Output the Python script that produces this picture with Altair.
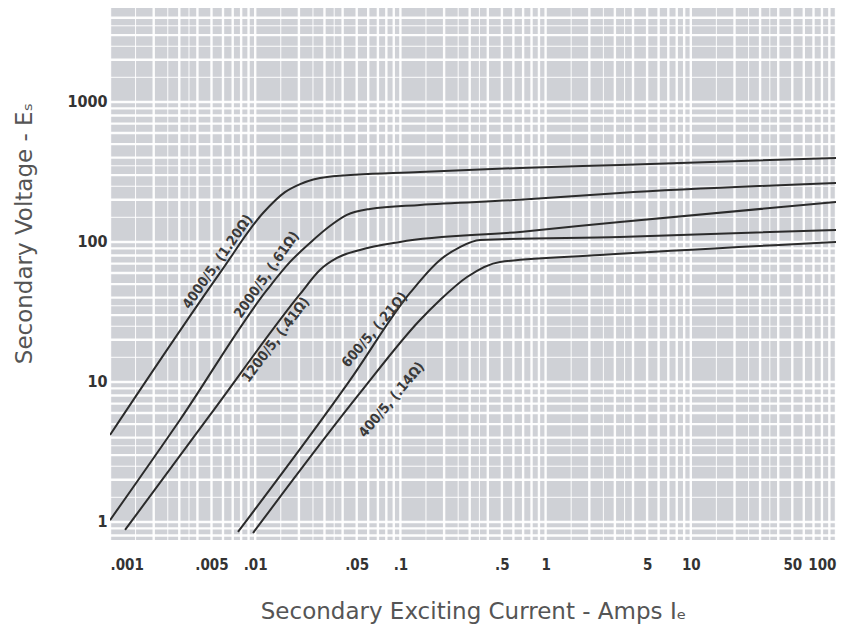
import altair as alt
import pandas as pd

# ---- data ----
curve_names = ["4000/5", "2000/5", "1200/5", "600/5", "400/5"]
a_x = [0.001, 0.00572, 0.01132, 0.01604, 0.0204, 0.03124, 0.1365, 0.666, 3.25, 100]
a_y = [4.18, 60.1, 161, 227, 259, 291, 316, 338, 355, 398]
b_x = [0.001, 0.00303, 0.01205, 0.01738, 0.02382, 0.0327, 0.0428, 0.0617, 0.1365, 0.666, 3.25, 100]
b_y = [1.03, 5.35, 45.4, 72.0, 98.4, 130, 156, 172, 184, 200, 224, 264]
c_x = [0.00127, 0.00489, 0.0204, 0.0279, 0.0366, 0.0527, 0.0994, 0.666, 3.25, 100]
c_y = [0.877, 5.81, 42.5, 63.1, 76.9, 87.7, 100, 118, 139, 193]
d_x = [0.00761, 0.045, 0.1164, 0.1875, 0.257, 0.353, 3.25, 100]
d_y = [0.849, 10.3, 43.2, 74.4, 92, 103.3, 108.6, 121.9]
e_x = [0.00966, 0.0527, 0.1365, 0.1875, 0.2877, 0.485, 2.37, 100]
e_y = [0.834, 8.34, 27.7, 38.5, 56.2, 72, 80.7, 100]

label_text = ["4000/5, (1.20Ω)", "2000/5, (.61Ω)", "1200/5, (.41Ω)", "600/5, (.21Ω)", "400/5, (.14Ω)"]
label_x = [0.00554, 0.01205, 0.0139, 0.0668, 0.0875]
label_y = [72, 58.1, 19.95, 23.5, 7.43]
label_angle = [305, 305, 307, 310, 310]

x_ticks = [0.001, 0.005, 0.01, 0.05, 0.1, 0.5, 1, 5, 10, 50, 100]
y_ticks = [1, 10, 100, 1000]

x_domain = [0.001, 100]
y_domain = [0.743, 4690]

# graph-paper style grid multipliers
major_mult = [1, 2, 3, 4, 5, 6, 7, 8, 9]
minor_mult = [1.5, 2.5, 3.5]
decades = [0.0001, 0.001, 0.01, 0.1, 1, 10, 100, 1000]

# ---- build tables ----
rows = []
for name, xs, ys in zip(curve_names, [a_x, b_x, c_x, d_x, e_x], [a_y, b_y, c_y, d_y, e_y]):
    for i, (xv, yv) in enumerate(zip(xs, ys)):
        rows.append({"ct": name, "order": i, "I": xv, "E": yv})
curves = pd.DataFrame(rows)

labels = pd.DataFrame({"text": label_text, "I": label_x, "E": label_y, "angle": label_angle})

def grid_rows(lo, hi):
    out = []
    for d in decades:
        for m in major_mult:
            v = m * d
            if lo <= v <= hi:
                out.append({"v": v, "w": 2.4})
        for m in minor_mult:
            v = m * d
            if lo <= v <= hi:
                out.append({"v": v, "w": 1.0})
    return pd.DataFrame(out)

gx = grid_rows(*x_domain)
gy = grid_rows(*y_domain)

x_scale = alt.Scale(type="log", domain=x_domain, nice=False)
y_scale = alt.Scale(type="log", domain=y_domain, nice=False)

label_font = "Liberation Sans Narrow, DejaVu Sans Condensed, Arial Narrow, sans-serif"
title_font = "DejaVu Sans, sans-serif"

x_axis = alt.Axis(values=x_ticks, grid=False, domain=False, ticks=False,
                  labelExpr="datum.value < 1 ? substring(format(datum.value, ''), 1) : format(datum.value, '')",
                  labelFont=label_font, labelFontSize=15, labelFontWeight="bold",
                  labelColor="#333", labelPadding=17,
                  title="Secondary Exciting Current - Amps   Iₑ",
                  titleFont=title_font, titleFontSize=23, titleFontWeight="normal",
                  titleColor="#555", titleY=78, titleBaseline="alphabetic")
y_axis = alt.Axis(values=y_ticks, grid=False, domain=False, ticks=False, format="d",
                  labelFont=label_font, labelFontSize=16, labelFontWeight="bold",
                  labelColor="#333", labelPadding=3,
                  title="Secondary Voltage - Eₛ",
                  titleFont=title_font, titleFontSize=23, titleFontWeight="normal",
                  titleColor="#555", titleX=-86, titleY=225, titleBaseline="middle")

grid_x = alt.Chart(gx).mark_rule(color="white", opacity=0.95).encode(
    x=alt.X("v:Q", scale=x_scale, axis=x_axis),
    strokeWidth=alt.StrokeWidth("w:Q", scale=None),
)
grid_y = alt.Chart(gy).mark_rule(color="white", opacity=0.95).encode(
    y=alt.Y("v:Q", scale=y_scale, axis=y_axis),
    strokeWidth=alt.StrokeWidth("w:Q", scale=None),
)

lines = alt.Chart(curves).mark_line(color="#2b2b2b", strokeWidth=2, interpolate="monotone", clip=True).encode(
    x=alt.X("I:Q", scale=x_scale, axis=x_axis),
    y=alt.Y("E:Q", scale=y_scale, axis=y_axis),
    detail="ct:N",
    order="order:Q",
)

texts = alt.Chart(labels).mark_text(font=label_font, fontSize=14, fontWeight="bold", color="#3a3a3a").encode(
    x=alt.X("I:Q", scale=x_scale, axis=x_axis),
    y=alt.Y("E:Q", scale=y_scale, axis=y_axis),
    text="text:N",
    angle=alt.Angle("angle:Q", scale=None),
)

chart = alt.layer(grid_x, grid_y, lines, texts).properties(
    width=726, height=532,
    autosize=alt.AutoSizeParams(type="none"),
    padding={"left": 102, "top": 0, "right": 20, "bottom": 90},
    background="white",
).configure_view(fill="#cfd1d6", stroke=None)

chart.save("out.html", embed_options={"renderer": "svg", "actions": False})
